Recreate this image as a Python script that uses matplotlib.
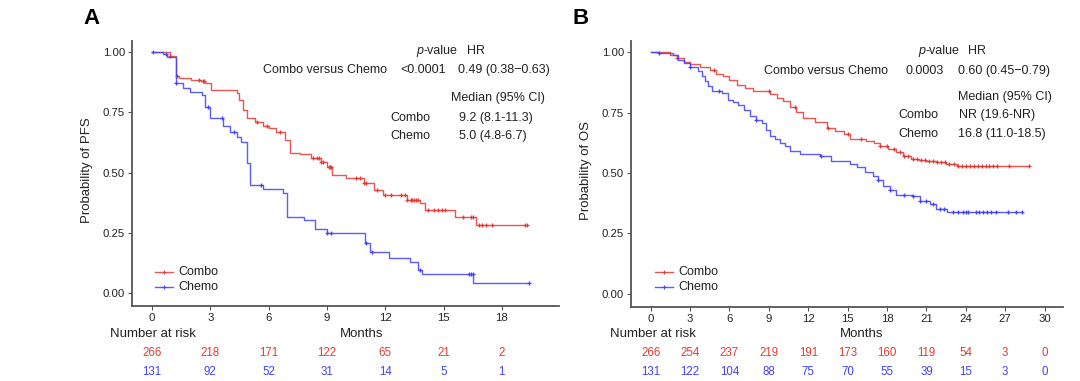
import numpy as np
import matplotlib
matplotlib.use("Agg")
import matplotlib.pyplot as plt
from matplotlib.lines import Line2D

plt.rcParams['font.family'] = ['Liberation Sans', 'DejaVu Sans']

RED = '#E33B35'
BLUE = '#4141FF'
AXC = '#555555'

# ---- Panel A: PFS ----
pfs_combo_t = [0, 0.9, 1.25, 1.4, 2.0, 2.5, 2.75, 3.05, 4.35, 4.5, 4.7, 4.87, 5.3, 5.7, 6.0, 6.4,
               6.84, 7.1, 7.6, 8.2, 8.7, 8.98, 9.24, 10.0, 10.9, 11.4, 11.9, 13.1, 13.8, 14.04, 15.6, 16.65]
pfs_combo_s = [1.0, 0.985, 0.90, 0.893, 0.885, 0.88, 0.872, 0.842, 0.83, 0.80, 0.76, 0.725, 0.71, 0.693,
               0.685, 0.67, 0.635, 0.582, 0.575, 0.559, 0.545, 0.524, 0.49, 0.476, 0.458, 0.427, 0.407,
               0.386, 0.372, 0.344, 0.317, 0.282]
pfs_combo_end = 19.3
pfs_combo_cens = [0.05, 0.95, 1.3, 2.4, 2.6, 2.7, 5.4, 5.9, 6.6, 8.3, 8.5, 8.6, 8.7, 8.8, 9.1, 9.15,
                  9.2, 10.5, 10.7, 10.9, 11.0, 11.6, 12.0, 12.3, 12.8, 13.0, 13.1, 13.3, 13.4, 13.5,
                  13.6, 13.7, 14.2, 14.5, 14.7, 14.9, 15.1, 16.0, 16.4, 16.5, 16.8, 17.0, 17.2, 17.5,
                  19.2, 19.3]

pfs_chemo_t = [0, 0.58, 0.76, 1.25, 1.6, 1.95, 2.55, 2.73, 2.98, 3.67, 4.0, 4.35, 4.6, 4.87, 5.04,
               5.7, 6.75, 6.93, 7.8, 8.4, 9.0, 10.96, 11.2, 12.2, 13.27, 13.7, 13.87, 16.53]
pfs_chemo_s = [1.0, 0.99, 0.978, 0.87, 0.85, 0.835, 0.82, 0.773, 0.725, 0.693, 0.67, 0.649, 0.628,
               0.538, 0.448, 0.43, 0.414, 0.317, 0.303, 0.264, 0.248, 0.206, 0.171, 0.144, 0.13,
               0.095, 0.079, 0.04]
pfs_chemo_end = 19.4
pfs_chemo_cens = [0.7, 1.25, 2.9, 3.6, 4.2, 5.6, 9.0, 9.2, 11.0, 11.3, 13.8, 16.3, 16.4, 16.5, 19.4]

# ---- Panel B: OS ----
os_combo_t = [0, 1.5, 2.0, 2.5, 3.0, 3.75, 4.5, 5.0, 5.53, 6.0, 6.55, 7.2, 7.82, 9.1, 9.6, 10.1,
              10.6, 11.1, 11.63, 12.5, 13.4, 14.0, 14.7, 15.2, 16.4, 17.0, 17.5, 18.1, 18.7, 19.2,
              19.8, 20.4, 21.0, 21.8, 22.5, 23.3]
os_combo_s = [1.0, 0.99, 0.975, 0.961, 0.95, 0.94, 0.925, 0.91, 0.90, 0.885, 0.866, 0.85, 0.838,
              0.825, 0.812, 0.797, 0.775, 0.752, 0.729, 0.71, 0.688, 0.672, 0.66, 0.64, 0.633, 0.625,
              0.612, 0.598, 0.585, 0.57, 0.557, 0.552, 0.55, 0.544, 0.537, 0.53]
os_combo_end = 28.8
os_combo_cens = [2.0, 4.8, 9.0, 11.0, 13.5, 15.0, 16.0, 17.5, 18.0, 18.5, 19.0, 19.3, 19.6, 20.0,
                 20.3, 20.6, 20.9, 21.2, 21.5, 21.8, 22.1, 22.4, 22.7, 23.1, 23.4, 23.7, 24.0, 24.3,
                 24.6, 24.9, 25.2, 25.5, 25.8, 26.1, 26.4, 27.3, 28.8]

os_chemo_t = [0, 0.58, 1.72, 2.1, 2.5, 3.0, 3.63, 3.9, 4.14, 4.4, 4.65, 5.41, 5.92, 6.3, 6.68, 7.1,
              7.57, 8.0, 8.46, 8.8, 9.1, 9.5, 9.86, 10.2, 10.6, 11.4, 12.9, 13.7, 15.2, 15.7, 16.3,
              16.95, 17.3, 17.7, 18.2, 18.7, 20.0, 20.5, 21.3, 21.7, 22.6]
os_chemo_s = [1.0, 0.995, 0.989, 0.968, 0.955, 0.94, 0.92, 0.90, 0.879, 0.86, 0.838, 0.831, 0.804,
              0.795, 0.783, 0.76, 0.735, 0.72, 0.708, 0.68, 0.653, 0.64, 0.626, 0.61, 0.592, 0.578,
              0.571, 0.55, 0.537, 0.523, 0.505, 0.489, 0.47, 0.448, 0.43, 0.41, 0.407, 0.386, 0.373,
              0.352, 0.338]
os_chemo_end = 28.3
os_chemo_cens = [0.6, 3.0, 5.2, 8.0, 13.0, 17.3, 18.2, 19.3, 20.0, 20.5, 21.0, 21.5, 22.0, 22.3,
                 23.0, 23.4, 23.8, 24.0, 24.2, 24.8, 25.0, 25.3, 25.6, 25.9, 26.3, 27.2, 27.8, 28.3]

# number at risk
pfs_risk_times = [0, 3, 6, 9, 12, 15, 18]
pfs_risk_combo = [266, 218, 171, 122, 65, 21, 2]
pfs_risk_chemo = [131, 92, 52, 31, 14, 5, 1]
os_risk_times = [0, 3, 6, 9, 12, 15, 18, 21, 24, 27, 30]
os_risk_combo = [266, 254, 237, 219, 191, 173, 160, 119, 54, 3, 0]
os_risk_chemo = [131, 122, 104, 88, 75, 70, 55, 39, 15, 3, 0]

W, H = 1080, 381
fig = plt.figure(figsize=(W / 100, H / 100), dpi=100)


def frac(x, y):
    # pixel position -> figure fraction
    return x / W, 1 - y / H


def km(ax, t, s, end, cens, color):
    tt = list(t) + [end]
    ss = list(s) + [s[-1]]
    ax.step(tt, ss, where='post', color=color, lw=1.0, alpha=0.85)
    idx = np.searchsorted(np.array(t), np.array(cens), side='right') - 1
    ax.plot(cens, np.array(s)[idx], ls='none', marker='+', ms=3.5, mew=0.9, color=color)


def panel(rect, xlim, ylabel, curves, letter, letter_xy, ylab_x):
    ax = fig.add_axes(rect)
    for c in curves:
        km(ax, *c)
    ax.set_xlim(*xlim)
    ax.set_ylim(-0.054, 1.046)
    ax.set_yticks([0, 0.25, 0.5, 0.75, 1.0])
    ax.set_yticklabels(['0.00', '0.25', '0.50', '0.75', '1.00'])
    ax.set_xticks(np.arange(0, xlim[1], 3))
    for side in ['top', 'right']:
        ax.spines[side].set_visible(False)
    for side in ['left', 'bottom']:
        ax.spines[side].set_color(AXC)
        ax.spines[side].set_linewidth(1.3)
    ax.tick_params(colors=AXC, labelcolor='#222222', labelsize=8.2, length=3, width=0.8, pad=2)
    fig.text(*frac(*letter_xy), letter, fontsize=16, fontweight='bold', ha='center', va='center')
    fig.text(*frac(ylab_x, 170), ylabel, fontsize=9.5, rotation=90, ha='center', va='center',
             color='#222222')
    return ax


axA = panel([132 / W, 1 - 306 / H, 427 / W, 265 / H], (-1.03, 20.94), 'Probability of PFS',
            [(pfs_combo_t, pfs_combo_s, pfs_combo_end, pfs_combo_cens, RED),
             (pfs_chemo_t, pfs_chemo_s, pfs_chemo_end, pfs_chemo_cens, BLUE)],
            'A', (91, 18), 87)
axB = panel([631 / W, 1 - 307 / H, 432 / W, 266 / H], (-1.5, 31.4), 'Probability of OS',
            [(os_combo_t, os_combo_s, os_combo_end, os_combo_cens, RED),
             (os_chemo_t, os_chemo_s, os_chemo_end, os_chemo_cens, BLUE)],
            'B', (581, 18), 586)


def txt(x, y, s, ha='left', fs=9, color='#222222', **kw):
    fig.text(*frac(x, y), s, fontsize=fs, ha=ha, va='center', color=color, **kw)


# annotations panel A
txt(423, 51, 'p', ha='right', style='italic')
txt(423, 51, '-value')
txt(476, 51, 'HR', ha='center')
txt(387, 70, 'Combo versus Chemo', ha='right')
txt(423, 70, '<0.0001', ha='center')
txt(458, 70, '0.49 (0.38\u22120.63)')
txt(451, 98, 'Median (95% CI)')
txt(390, 118, 'Combo')
txt(459, 118, '9.2 (8.1-11.3)')
txt(390, 136, 'Chemo')
txt(459, 136, '5.0 (4.8-6.7)')

# annotations panel B
txt(925, 51, 'p', ha='right', style='italic')
txt(925, 51, '-value')
txt(977, 51, 'HR', ha='center')
txt(888, 71, 'Combo versus Chemo', ha='right')
txt(925, 71, '0.0003', ha='center')
txt(958, 71, '0.60 (0.45\u22120.79)')
txt(958, 97, 'Median (95% CI)')
txt(898, 115, 'Combo')
txt(997, 115, 'NR (19.6-NR)', ha='center')
txt(898, 134, 'Chemo')
txt(958, 134, '16.8 (11.0-18.5)')

# legends
for x0 in (155, 655):
    for yy, col, lab in ((272, RED, 'Combo'), (287, BLUE, 'Chemo')):
        fig.add_artist(Line2D([x0 / W, (x0 + 18) / W], [1 - yy / H, 1 - yy / H], color=col, lw=1.0,
                              alpha=0.85))
        fig.add_artist(Line2D([(x0 + 9) / W], [1 - yy / H], color=col, marker='+', ms=3, mew=0.8))
        txt(x0 + 23, yy, lab)


# risk tables
def risk(ax, times, combo, chemo, nx, mx):
    txt(nx, 334, 'Number at risk', fs=9.5)
    txt(mx, 334, 'Months', ha='center', fs=9.5)
    for t, a, b in zip(times, combo, chemo):
        xd = ax.transData.transform((t, 0))[0]
        txt(xd, 353, str(a), ha='center', fs=8.3, color=RED)
        txt(xd, 372, str(b), ha='center', fs=8.3, color=BLUE)


risk(axA, pfs_risk_times, pfs_risk_combo, pfs_risk_chemo, 110, 362)
risk(axB, os_risk_times, os_risk_combo, os_risk_chemo, 610, 862)

fig.savefig('out.png', dpi=100)
